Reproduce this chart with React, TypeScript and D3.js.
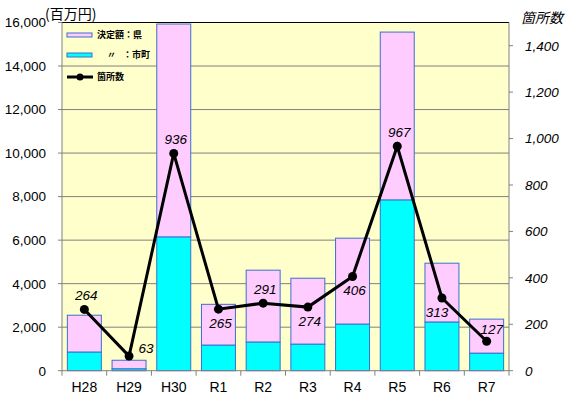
import { useEffect, useRef } from 'react';
import * as d3 from 'd3';

// 年度
const categories = ['H28', 'H29', 'H30', 'R1', 'R2', 'R3', 'R4', 'R5', 'R6', 'R7'];
// 決定額：県 (合計, 百万円)
const totalValues = [2550, 480, 15930, 3050, 4620, 4250, 6090, 15560, 4940, 2370];
// 決定額：市町 (百万円)
const cityValues = [850, 80, 6140, 1170, 1310, 1215, 2135, 7840, 2230, 800];
// 箇所数
const counts = [264, 63, 936, 265, 291, 274, 406, 967, 313, 127];
// ラベル位置
const labelPlacement = ['top', 'right', 'top', 'bottom', 'top', 'bottom', 'bottom', 'top', 'bottomLeft', 'topRight'];

const leftTicks = [0, 2000, 4000, 6000, 8000, 10000, 12000, 14000, 16000];
const rightTicks = [0, 200, 400, 600, 800, 1000, 1200, 1400];

const W = 577;
const H = 405;
const plot = { left: 62, right: 509, top: 22.5, bottom: 370.7 };
const font = '"Liberation Sans", Arial, sans-serif';
const jpFont = '"Noto Sans CJK JP", sans-serif';

export default function App() {
  const svgRef = useRef<SVGSVGElement>(null);

  useEffect(() => {
    if (!svgRef.current) return;
    const svg = d3.select(svgRef.current);
    svg.selectAll('*').remove();

    const x = d3
      .scaleBand<string>()
      .domain(categories)
      .range([plot.left, plot.right])
      .paddingInner(0.24)
      .paddingOuter(0.12);
    const yL = d3.scaleLinear().domain([0, 16000]).range([plot.bottom, plot.top]);
    const yR = d3.scaleLinear().domain([0, 1500]).range([plot.bottom, plot.top]);

    svg.append('rect').attr('width', W).attr('height', H).attr('fill', '#ffffff');

    // plot background
    svg
      .append('rect')
      .attr('x', plot.left)
      .attr('y', plot.top)
      .attr('width', plot.right - plot.left)
      .attr('height', plot.bottom - plot.top)
      .attr('fill', '#ffffcc');

    // gridlines
    svg
      .append('g')
      .selectAll('line')
      .data(leftTicks.slice(1, -1))
      .enter()
      .append('line')
      .attr('x1', plot.left)
      .attr('x2', plot.right)
      .attr('y1', (d) => yL(d))
      .attr('y2', (d) => yL(d))
      .attr('stroke', '#808080')
      .attr('stroke-width', 1);

    // top border
    svg
      .append('line')
      .attr('x1', plot.left)
      .attr('x2', plot.right)
      .attr('y1', plot.top)
      .attr('y2', plot.top)
      .attr('stroke', '#000')
      .attr('stroke-width', 1);

    // stacked bars
    const bars = svg.append('g');
    categories.forEach((c, i) => {
      const bx = x(c)!;
      const bw = x.bandwidth();
      bars
        .append('rect')
        .attr('x', bx)
        .attr('y', yL(totalValues[i]))
        .attr('width', bw)
        .attr('height', yL(cityValues[i]) - yL(totalValues[i]))
        .attr('fill', '#ffccff')
        .attr('stroke', '#3a6fd0')
        .attr('stroke-width', 1);
      bars
        .append('rect')
        .attr('x', bx)
        .attr('y', yL(cityValues[i]))
        .attr('width', bw)
        .attr('height', yL(0) - yL(cityValues[i]))
        .attr('fill', '#00ffff')
        .attr('stroke', '#3a6fd0')
        .attr('stroke-width', 1);
    });

    // axes lines
    const axisColor = '#808080';
    svg
      .append('line')
      .attr('x1', plot.left)
      .attr('x2', plot.left)
      .attr('y1', plot.top)
      .attr('y2', plot.bottom)
      .attr('stroke', axisColor);
    svg
      .append('line')
      .attr('x1', plot.right)
      .attr('x2', plot.right)
      .attr('y1', plot.top)
      .attr('y2', plot.bottom)
      .attr('stroke', axisColor);
    svg
      .append('line')
      .attr('x1', plot.left)
      .attr('x2', plot.right)
      .attr('y1', plot.bottom)
      .attr('y2', plot.bottom)
      .attr('stroke', axisColor);

    // left ticks
    const fmt = d3.format(',');
    const lt = svg.append('g');
    leftTicks.forEach((t) => {
      lt.append('line')
        .attr('x1', plot.left - 4)
        .attr('x2', plot.left)
        .attr('y1', yL(t))
        .attr('y2', yL(t))
        .attr('stroke', axisColor);
      lt.append('text')
        .attr('x', 46)
        .attr('y', yL(t))
        .attr('dy', '0.36em')
        .attr('text-anchor', 'end')
        .attr('font-family', font)
        .attr('font-size', 13.5)
        .attr('fill', '#000')
        .text(fmt(t));
    });

    // right ticks
    const rt = svg.append('g');
    rightTicks.forEach((t) => {
      rt.append('line')
        .attr('x1', plot.right)
        .attr('x2', plot.right + 4)
        .attr('y1', yR(t))
        .attr('y2', yR(t))
        .attr('stroke', axisColor);
      rt.append('text')
        .attr('x', t === 0 ? 525 : 525)
        .attr('y', yR(t))
        .attr('dy', '0.36em')
        .attr('text-anchor', 'start')
        .attr('font-family', font)
        .attr('font-style', 'italic')
        .attr('font-size', 13.5)
        .attr('fill', '#000')
        .text(fmt(t));
    });

    // category ticks and labels
    const step = x.step();
    const bt = svg.append('g');
    d3.range(categories.length + 1).forEach((i) => {
      const tx = plot.left + i * step;
      bt.append('line')
        .attr('x1', tx)
        .attr('x2', tx)
        .attr('y1', plot.bottom)
        .attr('y2', plot.bottom + 5)
        .attr('stroke', axisColor);
    });
    categories.forEach((c) => {
      bt.append('text')
        .attr('x', x(c)! + x.bandwidth() / 2)
        .attr('y', 392)
        .attr('text-anchor', 'middle')
        .attr('font-family', font)
        .attr('font-size', 14)
        .attr('fill', '#000')
        .text(c);
    });

    // count line
    const cx = (i: number) => x(categories[i])! + x.bandwidth() / 2;
    const line = d3
      .line<number>()
      .x((_d, i) => cx(i))
      .y((d) => yR(d));
    svg
      .append('path')
      .datum(counts)
      .attr('d', line)
      .attr('fill', 'none')
      .attr('stroke', '#000')
      .attr('stroke-width', 3);
    svg
      .append('g')
      .selectAll('circle')
      .data(counts)
      .enter()
      .append('circle')
      .attr('cx', (_d, i) => cx(i))
      .attr('cy', (d) => yR(d))
      .attr('r', 4.5)
      .attr('fill', '#000');

    // data labels
    const offsets: Record<string, [number, number]> = {
      top: [2, -14],
      bottom: [2, 14],
      right: [17, -8],
      topRight: [5, -12],
      bottomLeft: [-5, 14],
    };
    svg
      .append('g')
      .selectAll('text')
      .data(counts)
      .enter()
      .append('text')
      .attr('x', (_d, i) => cx(i) + offsets[labelPlacement[i]][0])
      .attr('y', (d, i) => yR(d) + offsets[labelPlacement[i]][1])
      .attr('dy', '0.36em')
      .attr('text-anchor', 'middle')
      .attr('font-family', font)
      .attr('font-style', 'italic')
      .attr('font-size', 13.5)
      .attr('fill', '#000')
      .text((d) => String(d));

    // axis titles
    svg
      .append('text')
      .attr('x', 45)
      .attr('y', 19)
      .attr('font-family', jpFont)
      .attr('font-size', 14)
      .attr('fill', '#000')
      .text('(百万円)');
    svg
      .append('text')
      .attr('x', 521)
      .attr('y', 23)
      .attr('font-family', jpFont)
      .attr('font-style', 'italic')
      .attr('font-size', 14)
      .attr('fill', '#000')
      .text('箇所数');

    // legend
    const lg = svg.append('g');
    lg.append('rect')
      .attr('x', 67)
      .attr('y', 33)
      .attr('width', 25)
      .attr('height', 4)
      .attr('fill', '#ffccff')
      .attr('stroke', '#3a6fd0');
    lg.append('rect')
      .attr('x', 67)
      .attr('y', 53)
      .attr('width', 25)
      .attr('height', 4)
      .attr('fill', '#00ffff')
      .attr('stroke', '#3a6fd0');
    lg.append('line')
      .attr('x1', 67)
      .attr('x2', 93)
      .attr('y1', 77)
      .attr('y2', 77)
      .attr('stroke', '#000')
      .attr('stroke-width', 3);
    lg.append('circle').attr('cx', 80).attr('cy', 77).attr('r', 3.5).attr('fill', '#000');
    const legendText = (tx: number, ty: number, s: string) =>
      lg
        .append('text')
        .attr('x', tx)
        .attr('y', ty)
        .attr('dy', '0.36em')
        .attr('font-family', jpFont)
        .attr('font-size', 9)
        .attr('font-weight', 'bold')
        .attr('fill', '#000')
        .text(s);
    legendText(97, 35, '決定額：県');
    legendText(107, 55, '〃');
    legendText(123, 55, '：市町');
    legendText(97, 77, '箇所数');
  }, []);

  return (
    <svg
      ref={svgRef}
      width={W}
      height={H}
      style={{ position: 'absolute', left: 0, top: 0 }}
    />
  );
}
